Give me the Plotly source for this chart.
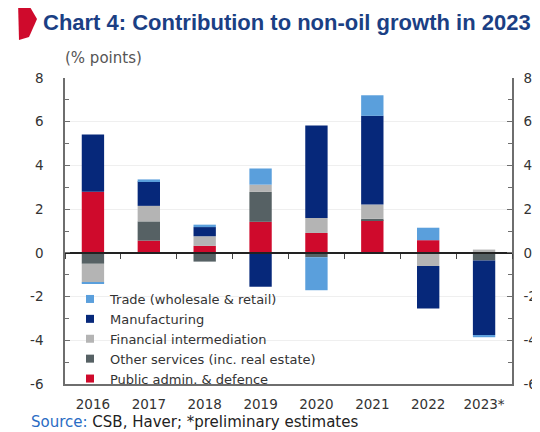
import plotly.graph_objects as go

years = ['2016', '2017', '2018', '2019', '2020', '2021', '2022', '2023*']
public_admin = [2.80, 0.56, 0.32, 1.42, 0.91, 1.49, 0.58, 0.00]
other_services = [-0.50, 0.88, -0.40, 1.37, -0.20, 0.07, 0.00, -0.35]
financial = [-0.85, 0.71, 0.44, 0.33, 0.69, 0.65, -0.60, 0.15]
manufacturing = [2.62, 1.12, 0.42, -1.55, 4.23, 4.06, -1.95, -3.41]
trade = [-0.07, 0.09, 0.11, 0.74, -1.51, 0.94, 0.57, -0.10]

series = [
    ('Public admin. & defence', public_admin, '#cf0a2c'),
    ('Other services (inc. real estate)', other_services, '#566164'),
    ('Financial intermediation', financial, '#b4b4b4'),
    ('Manufacturing', manufacturing, '#06287a'),
    ('Trade (wholesale & retail)', trade, '#5a9fdc'),
]
y_ticks = [-6, -4, -2, 0, 2, 4, 6, 8]
y_ticktext = [str(v) for v in y_ticks]

# the page body adds an 8px offset, so the figure is drawn 8px smaller
OFF = 8
W, H = 540 - OFF, 432 - OFF
# plot area in screen pixels
SL, SR, ST, SB = 65, 512, 78, 384
L, R, T, B = SL - OFF, 540 - SR, ST - OFF, 432 - SB
pw, ph = SR - SL, SB - ST
FONT = 'DejaVu Sans, Verdana, sans-serif'


def px(x):
    return (x - SL) / pw


def py(y):
    return (SB - y) / ph


fig = go.Figure()
for name, vals, col in series:
    fig.add_trace(go.Bar(x=years, y=vals, name=name, marker=dict(color=col, line=dict(width=0)),
                         width=0.4, showlegend=False, legendgroup=name))
# legend entries with small square keys
for name, vals, col in series:
    fig.add_trace(go.Scatter(x=[None], y=[None], name=name, mode='markers', legendgroup=name,
                             marker=dict(symbol='square', size=8, color=col), hoverinfo='skip'))

# invisible helper trace for the zero-line category axis
fig.add_trace(go.Scatter(x=years, y=public_admin, xaxis='x2', mode='markers',
                         marker=dict(opacity=0), showlegend=False, hoverinfo='skip'))
# helper for right axis
fig.add_trace(go.Scatter(x=years, y=public_admin, yaxis='y2', mode='markers',
                         marker=dict(opacity=0), showlegend=False, hoverinfo='skip'))

axis_col = '#6e6e6e'
tickfont = dict(family=FONT, size=13.5, color='#333333')
yrange = [min(y_ticks), max(y_ticks)]

fig.update_layout(
    width=W, height=H,
    margin=dict(l=L, r=R, t=T, b=B, autoexpand=False),
    paper_bgcolor='white', plot_bgcolor='white',
    barmode='relative',
    showlegend=True,
    legend=dict(x=px(70), y=py(284), xanchor='left', yanchor='top', traceorder='reversed',
                bgcolor='rgba(0,0,0,0)', font=dict(family=FONT, size=13, color='#333333'),
                itemwidth=30, tracegroupgap=0),
    font=dict(family=FONT),
    xaxis=dict(type='category', categoryorder='array', categoryarray=years, range=[-0.5, 7.5],
               showline=True, linecolor=axis_col, linewidth=1.5, ticks='', showgrid=False,
               tickfont=tickfont, ticklabelstandoff=7),
    xaxis2=dict(type='category', categoryorder='array', categoryarray=years, range=[-0.5, 7.5],
                overlaying='x', anchor='free', position=(0 - yrange[0]) / (yrange[1] - yrange[0]),
                showline=True, linecolor='#222222', linewidth=1.5, ticks='outside', ticklen=5,
                tickcolor='#444444', tickson='boundaries', showticklabels=False, showgrid=False),
    yaxis=dict(range=yrange, tickvals=y_ticks, ticktext=y_ticktext, ticks='inside', ticklen=5,
               tickcolor=axis_col, showline=True, linecolor=axis_col, linewidth=1.5, showgrid=True,
               gridcolor='#efefef', zeroline=False, tickfont=tickfont, ticklabelstandoff=17,
               minor=dict(dtick=1, ticks='inside', ticklen=4, tickcolor=axis_col, showgrid=False)),
    yaxis2=dict(range=yrange, tickvals=y_ticks, ticktext=y_ticktext, overlaying='y', side='right',
                anchor='x', ticks='inside', ticklen=5, tickcolor=axis_col, showline=True,
                linecolor=axis_col, linewidth=1.5, showgrid=False, zeroline=False, tickfont=tickfont,
                ticklabelstandoff=7,
                minor=dict(dtick=1, ticks='inside', ticklen=4, tickcolor=axis_col, showgrid=False)),
    title=dict(text='<b>Chart 4: Contribution to non-oil growth in 2023</b>', xref='container', yref='container',
               x=(43 - OFF) / W, y=1 - (22 - OFF) / H, xanchor='left', yanchor='middle',
               font=dict(family='Liberation Sans, Arial, sans-serif', size=22, color='#1b3f84')),
)

# red flag marker beside the title
flag = [(18, 2), (30, 7), (37, 19), (29, 37), (19, 40)]
path = 'M ' + ' L '.join(f'{px(a):.4f},{py(b):.4f}' for a, b in flag) + ' Z'
fig.add_shape(type='path', path=path, xref='paper', yref='paper', fillcolor='#cf0a2c', line=dict(width=0))

fig.add_annotation(text='(% points)', xref='paper', yref='paper', x=px(63), y=py(58),
                   xanchor='left', yanchor='middle', showarrow=False,
                   font=dict(family=FONT, size=15, color='#555555'))
fig.add_annotation(text="<span style='color:#2a6cc4'>Source:</span> CSB, Haver; *preliminary estimates",
                   xref='paper', yref='paper', x=px(29), y=py(433), xanchor='left', yanchor='bottom',
                   showarrow=False,
                   font=dict(family=FONT, size=15, color='#222222'))

fig.write_html('out.html')
